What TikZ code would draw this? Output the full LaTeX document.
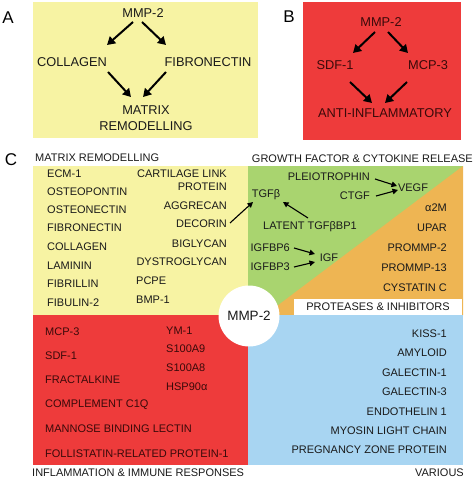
\documentclass[tikz,border=0pt]{standalone}
\usepackage{fontspec}
\setmainfont{Liberation Sans}
\usetikzlibrary{arrows.meta}
\definecolor{mryellow}{HTML}{F7F3A3}
\definecolor{infred}{HTML}{EE3B3B}
\definecolor{gfgreen}{HTML}{A9D46F}
\definecolor{piorange}{HTML}{EEB553}
\definecolor{varblue}{HTML}{A8D5F2}
\definecolor{inkred}{HTML}{3A0A0A}
\definecolor{ink}{HTML}{1A1A1A}
\tikzset{
  item/.style={inner sep=0pt, text=ink, font=\fontsize{11}{13}\selectfont},
  reditem/.style={item, text=inkred},
  big/.style={inner sep=0pt, text=ink, font=\fontsize{12.8}{16}\selectfont},
  panel/.style={inner sep=0pt, font=\fontsize{17}{20}\selectfont},
  fatarrow/.style={line width=2pt, -{Triangle[length=8pt,width=9pt]}},
  thinarrow/.style={line width=1.1pt, -{Triangle[length=5.5pt,width=5.5pt]}},
}
\begin{document}
\begin{tikzpicture}[x=1pt,y=-1pt]
  \useasboundingbox (0,0) rectangle (474,478);
  %%%%% A %%%%%
  \fill[mryellow] (33,2) rectangle (258,138);
  \node[panel] (labA) at (8,18) {A};
  \node[big] (mmpA) at (143,13) {MMP-2};
  \node[big] (colA) at (72,62) {COLLAGEN};
  \node[big] (fibA) at (208,62) {FIBRONECTIN};
  \node[big, align=center] (matA) at (146,118) {MATRIX\\REMODELLING};
  \draw[fatarrow] ([shift={(-10,9)}]mmpA.center) -- ([shift={(35,-17)}]colA.center);
  \draw[fatarrow] ([shift={(-1,9)}]mmpA.center) -- ([shift={(-42,-17)}]fibA.center);
  \draw[fatarrow] ([shift={(36,10)}]colA.center) -- ([shift={(-15,-21)}]matA.center);
  \draw[fatarrow] ([shift={(-42,10)}]fibA.center) -- ([shift={(-3,-21)}]matA.center);

  %%%%% B %%%%%
  \fill[infred] (303,2) rectangle (461,140);
  \node[panel] (labB) at (289,17) {B};
  \node[big, text=inkred] (mmpB) at (381,22) {MMP-2};
  \node[big, text=inkred] (sdfB) at (335,65) {SDF-1};
  \node[big, text=inkred] (mcpB) at (428,65) {MCP-3};
  \node[big, text=inkred] (antiB) at (385,113) {ANTI-INFLAMMATORY};
  \draw[fatarrow] ([shift={(-6,10)}]mmpB.center) -- ([shift={(18,-12)}]sdfB.center);
  \draw[fatarrow] ([shift={(7,10)}]mmpB.center) -- ([shift={(-20,-12)}]mcpB.center);
  \draw[fatarrow] ([shift={(15,17)}]sdfB.center) -- ([shift={(-13,-10)}]antiB.center);
  \draw[fatarrow] ([shift={(-21,17)}]mcpB.center) -- ([shift={(0,-10)}]antiB.center);

  %%%%% C %%%%%
  \node[panel] (labC) at (11,160) {C};
  \fill[mryellow] (33,166) rectangle (248,315);
  \fill[gfgreen] (248,166) rectangle (463,315);
  \fill[piorange] (463,166) -- (463,315) -- (265,315) -- cycle;
  \fill[infred] (33,315) rectangle (248,465);
  \fill[varblue] (248,315) rectangle (463,465);

  \node[item, anchor=west] (mrTitle) at (35,158) {MATRIX REMODELLING};
  \node[item, anchor=east] (gfTitle) at (473,159) {GROWTH FACTOR \& CYTOKINE RELEASE};
  \node[item, anchor=west] (imTitle) at (32,473) {INFLAMMATION \& IMMUNE RESPONSES};
  \node[item, anchor=east] (vaTitle) at (464,473) {VARIOUS};
  \node[item, fill=white, minimum width=168pt, minimum height=16pt] (piTitle) at (378,307) {PROTEASES \& INHIBITORS};

  % matrix remodelling
  \foreach \t/\y [count=\i] in {ECM-1/174, OSTEOPONTIN/192, OSTEONECTIN/210, FIBRONECTIN/228,
      COLLAGEN/247, LAMININ/266, FIBRILLIN/284, FIBULIN-2/303}
    \node[item, anchor=west] (mrA\i) at (47,\y) {\t};
  \foreach \t/\y [count=\i] in {PROTEIN/187, AGGRECAN/206, DECORIN/224, BIGLYCAN/244, DYSTROGLYCAN/262}
    \node[item, anchor=east] (mrB\i) at (227,\y) {\t};
  \node[item, anchor=east] (cart) at (227,174) {CARTILAGE LINK};
  \node[item, anchor=west] (pcpe) at (136,281) {PCPE};
  \node[item, anchor=west] (bmp) at (136,300) {BMP-1};

  % growth factors
  \node[item, anchor=east] (pleio) at (370,177) {PLEIOTROPHIN};
  \node[item, anchor=east] (ctgf) at (370,196) {CTGF};
  \node[item] (vegf) at (413,188) {VEGF};
  \node[item] (tgf) at (266,195) {TGFβ};
  \node[item] (latent) at (310,227) {LATENT TGFβBP1};
  \node[item, anchor=east] (bp6) at (290,248) {IGFBP6};
  \node[item, anchor=east] (bp3) at (290,267) {IGFBP3};
  \node[item] (igf) at (329,258) {IGF};
  \draw[thinarrow] ([shift={(3,-1)}]mrB3.east) -- ([shift={(-13,7)}]tgf.center);
  \draw[thinarrow] ([shift={(-2,-9)}]latent.center) -- ([shift={(17,7)}]tgf.center);
  \draw[thinarrow] ([shift={(5,2)}]pleio.east) -- ([shift={(-16,-2)}]vegf.center);
  \draw[thinarrow] ([shift={(6,0)}]ctgf.east) -- ([shift={(-15,2)}]vegf.center);
  \draw[thinarrow] ([shift={(4,0)}]bp6.east) -- ([shift={(-14,-4)}]igf.center);
  \draw[thinarrow] ([shift={(4,0)}]bp3.east) -- ([shift={(-14,4)}]igf.center);

  % proteases
  \foreach \t/\y [count=\i] in {α2M/208, UPAR/228, PROMMP-2/248, PROMMP-13/268, CYSTATIN C/288}
    \node[item, anchor=east] (pi\i) at (447,\y) {\t};

  % inflammation
  \foreach \t/\y [count=\i] in {MCP-3/332, SDF-1/356, FRACTALKINE/380, COMPLEMENT C1Q/405,
      MANNOSE BINDING LECTIN/429, FOLLISTATIN-RELATED PROTEIN-1/454}
    \node[reditem, anchor=west] (imA\i) at (45,\y) {\t};
  \foreach \t/\y [count=\i] in {YM-1/331, S100A9/349, S100A8/368, HSP90α/387}
    \node[reditem, anchor=west] (imB\i) at (166,\y) {\t};

  % various
  \foreach \t/\y [count=\i] in {KISS-1/334, AMYLOID/353, GALECTIN-1/373, GALECTIN-3/392,
      ENDOTHELIN 1/412, MYOSIN LIGHT CHAIN/431, PREGNANCY ZONE PROTEIN/450}
    \node[item, anchor=east] (va\i) at (447,\y) {\t};

  \node[circle, fill=white, minimum size=61pt, inner sep=0pt, font=\fontsize{13.5}{16}\selectfont, text=ink] (mmpC) at (249,316) {MMP-2};
\end{tikzpicture}
\end{document}
